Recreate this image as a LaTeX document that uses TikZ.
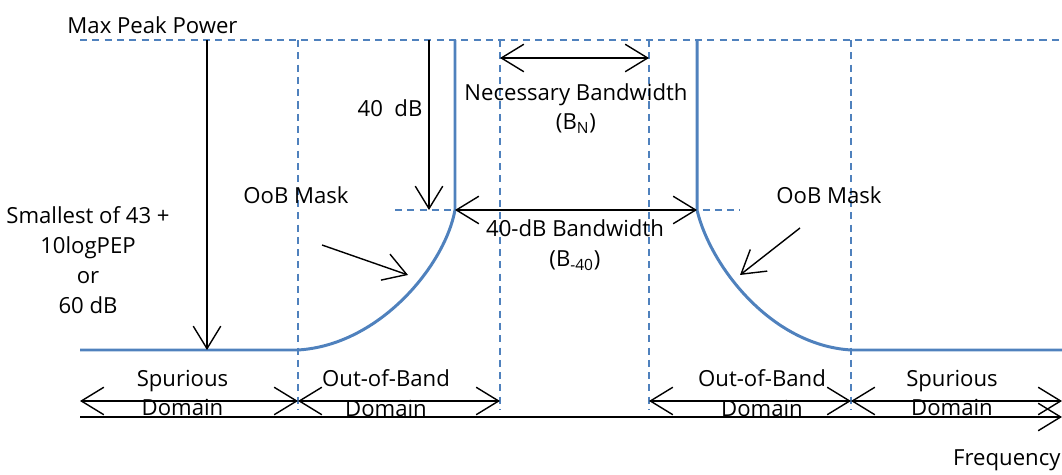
\documentclass[tikz,border=0pt]{standalone}
\usepackage{fontspec}
\setmainfont{Open Sans}
\usetikzlibrary{arrows.meta,positioning,calc}
\definecolor{maskblue}{RGB}{79,129,189}

\begin{document}
\begin{tikzpicture}[>={Straight Barb[length=4.5mm,width=5.5mm]}, semithick,
      mask/.style={draw=maskblue,line width=1.7pt},
      guide/.style={draw=maskblue,line width=0.7pt,dash pattern=on 4pt off 3pt},
      dim/.style={draw=black,line width=0.8pt},
      lbl/.style={font=\fontsize{12.6}{17}\selectfont,align=center,inner sep=1pt}]
      \useasboundingbox (0,0) rectangle (21.24,9.5);
      % mask corners
      \coordinate (sl) at (1.6,2.5);
      \coordinate (ol) at (5.96,2.5);
      \coordinate (kl) at (9.1,5.3);
      \coordinate (tl) at (9.1,8.7);
      \coordinate (tr) at (13.94,8.7);
      \coordinate (kr) at (13.94,5.3);
      \coordinate (or) at (17.02,2.5);
      \coordinate (sr) at (21.24,2.5);
      % guide lines
      \coordinate (pk0) at (1.6,8.7);
      \coordinate (pk1) at (21.24,8.7);
      \coordinate (m0) at (7.9,5.3);
      \coordinate (m1) at (14.8,5.3);
      \draw[guide] (pk0) -- (pk1);
      \draw[guide] (m0) -- (m1);
      \foreach \x/\n in {5.96/a,10.0/b,12.98/c,17.02/d}{
        \coordinate (g\n0) at (\x,8.7);
        \coordinate (g\n1) at (\x,1.3);
        \draw[guide] (g\n0) -- (g\n1);
      }
      % the mask
      \draw[mask] (sl) -- (ol) .. controls (7.6,2.6) and (8.9,4.2) .. (kl) -- (tl);
      \draw[mask] (tr) -- (kr) .. controls (14.2,4.2) and (15.4,2.6) .. (or) -- (sr);
      % levels
      \coordinate (lv0) at (4.14,8.7);
      \coordinate (lv1) at (4.14,2.5);
      \draw[dim,->] (lv0) -- (lv1);
      \coordinate (db0) at (8.58,8.7);
      \coordinate (db1) at (8.58,5.3);
      \draw[dim,->] (db0) -- (db1);
      % bandwidths
      \coordinate (bn0) at (10.0,8.34);
      \coordinate (bn1) at (12.98,8.34);
      \draw[dim,<->] (bn0) -- (bn1);
      \draw[dim,<->] (kl) -- (kr);
      % domains
      \foreach \a/\b/\n in {1.6/5.96/1,5.96/10.0/2,12.98/17.02/3,17.02/21.24/4}{
        \coordinate (d\n a) at (\a,1.48);
        \coordinate (d\n b) at (\b,1.48);
        \draw[dim,<->] (d\n a) -- (d\n b);
      }
      \coordinate (f0) at (1.6,1.16);
      \coordinate (f1) at (21.24,1.16);
      \draw[dim,->] (f0) -- (f1);
      % labels
      \node[lbl] (peak) at (3.05,9.0) {Max Peak Power};
      \node[lbl] (fortydb) at (7.8,7.34) {40\ \ dB};
      \node[lbl] (necbw) at (11.52,7.33) {Necessary Bandwidth\\(B\textsubscript{N})};
      \node[lbl] (fortybw) at (11.5,4.59) {40-dB Bandwidth\\(B\textsubscript{-40})};
      \node[lbl] (small) at (1.76,4.3) {Smallest of 43 +\\10logPEP\\or\\60 dB};
      \node[lbl] (oobl) at (5.92,5.6) {OoB Mask};
      \node[lbl] (oobr) at (16.58,5.6) {OoB Mask};
      \node[lbl] (spl) at (3.65,1.64) {Spurious\\Domain};
      \node[lbl] (outl) at (7.72,1.64) {Out-of-Band\\Domain};
      \node[lbl] (outr) at (15.24,1.64) {Out-of-Band\\Domain};
      \node[lbl] (spr) at (19.04,1.64) {Spurious\\Domain};
      \node[lbl,inner sep=0pt,anchor=east] (freq) at (21.22,0.3) {Frequency};
      % mask pointers
      \coordinate (pl0) at (6.44,4.6);
      \coordinate (pl1) at (8.16,4.0);
      \draw[dim,->] (pl0) -- (pl1);
      \coordinate (pr0) at (16.0,4.94);
      \coordinate (pr1) at (14.8,4.0);
      \draw[dim,->] (pr0) -- (pr1);
    \end{tikzpicture}
\end{document}
